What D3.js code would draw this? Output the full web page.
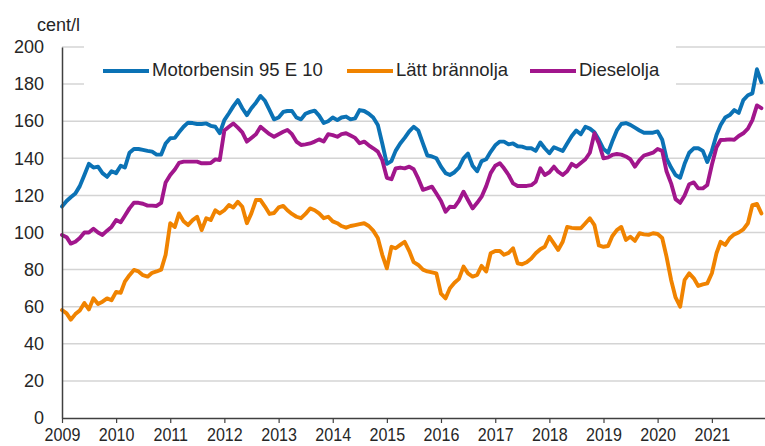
<!DOCTYPE html>
<html><head><meta charset="utf-8">
<script src="https://cdn.jsdelivr.net/npm/d3@7"></script>
<style>
body{margin:0;background:#fff}
svg{display:block}
text{font-family:"Liberation Sans",Arial,sans-serif;fill:#262626}
</style>
</head><body>
<svg id="chart" width="765" height="446"></svg>
<script>
const startYear = 2009;
const endYear = 2022;
const unitLabel = "cent/l";
const yTicks = [0, 20, 40, 60, 80, 100, 120, 140, 160, 180, 200];
const xTickYears = [2009, 2010, 2011, 2012, 2013, 2014, 2015, 2016, 2017, 2018, 2019, 2020, 2021];
const seriesNames = ["Motorbensin 95 E 10", "Lätt brännolja", "Dieselolja"];
const seriesColors = ["#0b72b5", "#f08300", "#a1168c"];

const motorbensin = [
  114, 117, 119, 121, 125, 131, 137, 135, 135.5, 132, 130, 133,
  132, 136, 135, 143, 145, 145, 144.5, 144, 143.6, 142, 142, 148,
  150.8, 151, 154, 157, 159.2, 159, 158.5, 158.5, 158.8, 157.5, 157, 153.5,
  160.6, 164.3, 168, 171.4, 167, 163.3, 167, 170, 173.6, 171, 166, 161,
  162, 165, 165.5, 165.5, 162, 161, 164, 165, 165.7, 163, 159, 160,
  162, 160.6, 162, 162.5, 161, 161.5, 166, 165.5, 164, 162, 158, 148,
  137, 138.5, 144, 148, 151, 154.5, 157, 155, 148, 141.5, 141, 140,
  135.5, 132, 131, 132.5, 135, 140, 142.5, 136, 133, 138.5, 139.5, 143.5,
  147, 149, 149, 147.5, 148, 146.5, 146.3, 145.4, 145.4, 144, 148.5, 145.4,
  142.7, 146, 145, 144, 148, 152, 155, 153, 157, 156, 154, 150,
  145, 143, 149, 155, 158.5, 159, 158, 156.5, 155, 153.8, 153.8, 153.8,
  154.5, 150, 140, 135, 131, 129.5, 137, 143, 145.4, 145.4, 144, 138,
  144, 152.6, 158, 162, 163.3, 166, 164.5, 171.4, 174, 175, 188, 181
];
const lattBrannolja = [
  58.2, 56.4, 53, 56, 58, 62, 58.5, 64.5, 61.5, 62.7, 64.5, 63.5,
  68, 67.5, 73.5, 77, 79.8, 79, 77, 76.2, 78.3, 79, 80, 88,
  105, 103, 110.3, 106, 104, 106.7, 108.5, 101.3, 107.7, 106.7, 112, 110.3,
  112, 114.8, 113.5, 116.6, 113.9, 105, 110.3, 117.5, 117.5, 114, 110, 110.5,
  113.5, 114.3, 112, 110, 108.5, 107.7, 110, 113, 112, 110.3, 107.7, 108.5,
  106, 105, 103.5, 102.6, 103.5, 104, 104.5, 105, 103.5, 101, 97, 88,
  80.7, 92.3, 91.5, 93.3, 95, 90, 84, 82.5, 80, 79, 78.5, 78,
  67, 64.5, 70, 72.9, 75, 81.6, 78, 76.2, 77.1, 82, 79, 88.8,
  90, 90, 88, 89, 91.5, 83.4, 82.9, 84, 86, 88.8, 91, 92.3,
  97.7, 94, 90.6, 95, 103, 102.5, 102.3, 102.3, 105, 107.7, 104, 93,
  92.3, 92.7, 98, 101.3, 103, 96, 97.7, 95.5, 99.6, 99, 98.7, 99.6,
  99.2, 97, 87, 74.4, 65, 60, 74.4, 78, 75.3, 71.2, 72, 72.6,
  78, 88.8, 95, 93.3, 96.9, 99, 100, 101.7, 105, 114.8, 115.4, 110.3
];
const dieselolja = [
  98.7, 97.5, 94, 95, 97, 100, 100, 102, 100, 98.7, 101, 103,
  106.7, 105.5, 109, 113, 116, 116, 115.5, 114.5, 114.5, 114.3, 116, 127,
  131, 134, 137.5, 138.2, 138.2, 138.2, 138.2, 137.3, 137.3, 137.5, 139.4, 139.1,
  155, 157, 158.8, 156.5, 154, 149, 151, 153, 157, 155, 153, 151.6,
  153, 154.3, 155.3, 153, 149, 147.2, 147.5, 148, 149, 150.2, 149, 153,
  152.5, 151.6, 153, 153.5, 152.3, 151, 148.1, 149, 147, 145.4, 143.6, 139,
  129.5, 128.7, 134.5, 135, 134.6, 135.5, 134.1, 129, 123, 123.8, 124.7, 121,
  117, 111.2, 113.9, 113.7, 117, 122, 117.5, 113, 116, 119.3, 125, 132,
  136, 137.3, 134.6, 131, 126.5, 125.1, 125.1, 125.1, 125.5, 127.4, 134.6, 131,
  132.5, 135.5, 132.8, 131, 133, 137, 135.5, 137.5, 139.5, 143, 153.5, 148,
  140, 140.5, 141.8, 142.3, 142, 141, 139.5, 135.5, 139, 141.5, 142.3, 143,
  145, 144, 133, 126.5, 118, 116, 120, 126, 127, 123.8, 123.8, 125.6,
  136.5, 146, 149.9, 150, 150.2, 150, 152, 153.5, 156, 160.6, 168.5, 167
];

const svg = d3.select("#chart");
const plotLeft = 62, plotRight = 766, plotTop = 47, plotBottom = 418;

const x = d3.scaleTime()
  .domain([new Date(startYear, 0, 1), new Date(endYear, 0, 1)])
  .range([plotLeft, plotRight]);
const y = d3.scaleLinear().domain([0, 200]).range([plotBottom, plotTop]);

// gridlines
svg.append("g").selectAll("line").data(yTicks.filter(d => d > 0)).join("line")
  .attr("x1", plotLeft).attr("x2", plotRight)
  .attr("y1", d => y(d)).attr("y2", d => y(d))
  .attr("stroke", "#d4d4d4").attr("stroke-width", 1.5);

const allSeries = [motorbensin, lattBrannolja, dieselolja];
const line = d3.line()
  .x((d, i) => x(new Date(startYear, i, 1)))
  .y(d => y(d))
  .curve(d3.curveLinear);

allSeries.forEach((s, k) => {
  svg.append("path").datum(s)
    .attr("d", line)
    .attr("fill", "none")
    .attr("stroke", seriesColors[k])
    .attr("stroke-width", 3.9)
    .attr("stroke-linejoin", "round")
    .attr("stroke-linecap", "round");
});

// legend
svg.append("rect").attr("x", 84).attr("y", 41).attr("width", 592).attr("height", 51).attr("fill", "#fff");
const legendX = [103, 347, 530];
const lg = svg.append("g");
seriesNames.forEach((name, k) => {
  lg.append("line")
    .attr("x1", legendX[k]).attr("x2", legendX[k] + 46)
    .attr("y1", 71).attr("y2", 71)
    .attr("stroke", seriesColors[k]).attr("stroke-width", 4.2);
  lg.append("text")
    .attr("x", legendX[k] + 49).attr("y", 76)
    .attr("font-size", 18.5)
    .text(name);
});

// y axis
const yAxis = svg.append("g").attr("transform", `translate(${plotLeft},0)`)
  .call(d3.axisLeft(y).tickValues(yTicks).tickSize(0).tickSizeOuter(0).tickPadding(18));
yAxis.select(".domain").attr("stroke", "#404040").attr("stroke-width", 1.5);
yAxis.selectAll("text").attr("font-size", 18).attr("fill", "#262626")
  .style("font-family", '"Liberation Sans",Arial,sans-serif');

// x axis
const xAxis = svg.append("g").attr("transform", `translate(0,${plotBottom})`)
  .call(d3.axisBottom(x)
    .tickValues(xTickYears.map(yy => new Date(yy, 0, 1)))
    .tickFormat(d3.timeFormat("%Y"))
    .tickSize(5).tickSizeOuter(0).tickPadding(6));
xAxis.select(".domain").attr("stroke", "#404040").attr("stroke-width", 1.5);
xAxis.selectAll(".tick line").attr("stroke", "#404040").attr("stroke-width", 1.2);
xAxis.selectAll("text").attr("font-size", 17.5).attr("fill", "#262626")
  .attr("transform", "scale(0.92,1)")
  .style("font-family", '"Liberation Sans",Arial,sans-serif');

// unit label
svg.append("text").attr("x", 37).attr("y", 31).attr("font-size", 18).text(unitLabel);
</script>
</body></html>
